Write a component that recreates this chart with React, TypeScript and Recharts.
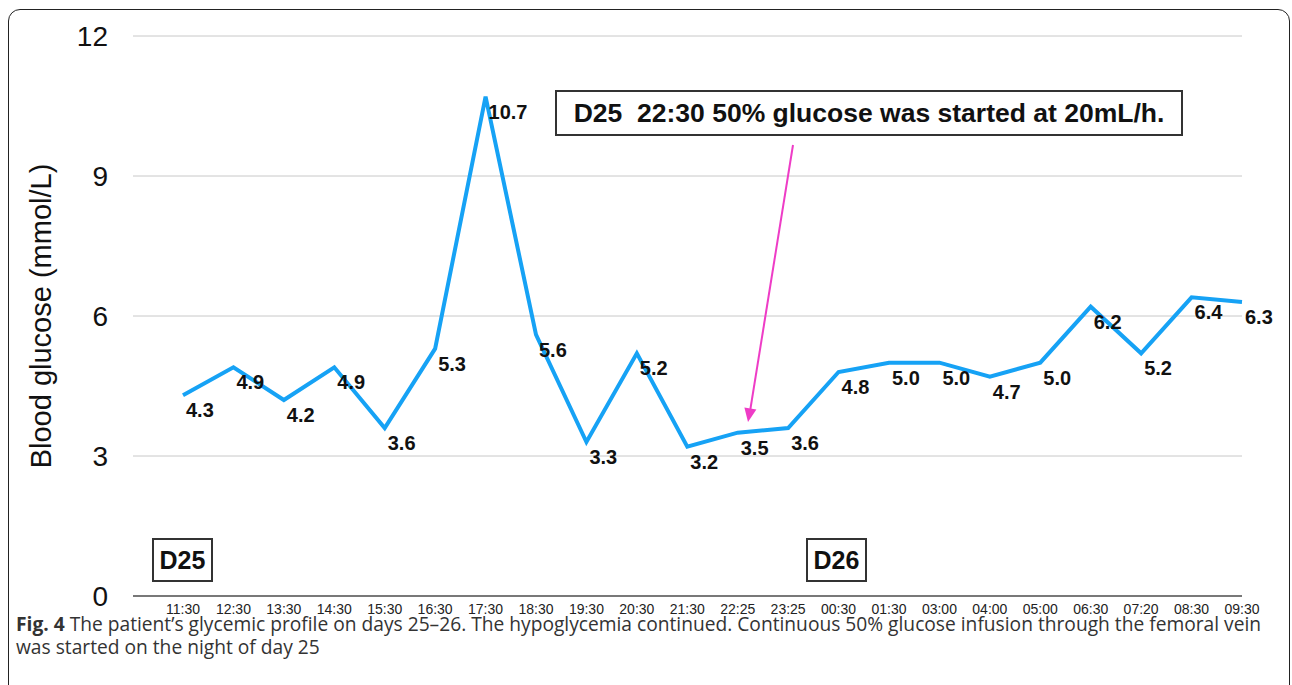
import React from "react";
import { LineChart, Line, XAxis, YAxis, CartesianGrid } from "recharts";

const times = ["11:30", "12:30", "13:30", "14:30", "15:30", "16:30", "17:30", "18:30", "19:30", "20:30", "21:30", "22:25", "23:25", "00:30", "01:30", "03:00", "04:00", "05:00", "06:30", "07:20", "08:30", "09:30"];
const glucose = [4.3, 4.9, 4.2, 4.9, 3.6, 5.3, 10.7, 5.6, 3.3, 5.2, 3.2, 3.5, 3.6, 4.8, 5.0, 5.0, 4.7, 5.0, 6.2, 5.2, 6.4, 6.3];
const yTicks = [0, 3, 6, 9, 12];
const annotationText = "D25  22:30 50% glucose was started at 20mL/h.";
const dayLabels = ["D25", "D26"];

const data = times.map((t, i) => ({ t, v: glucose[i] }));

const FONT = "'Liberation Sans', Arial, Helvetica, sans-serif";

const renderLabel = (props: any) => {
  const { x, y, value, index } = props;
  return (
    <text key={`lbl-${index}`} x={x + 3} y={y + 22} fontSize={20} fontWeight="bold" fill="#111" fontFamily={FONT}>
      {Number(value).toFixed(1)}
    </text>
  );
};

const renderYLabel = (props: any) => {
  const vb = props.viewBox || {};
  const cy = (vb.y || 0) + (vb.height || 0) / 2;
  const cx = 41;
  return (
    <text x={cx} y={cy} transform={`rotate(-90, ${cx}, ${cy})`} textAnchor="middle" dominantBaseline="central" fontSize={29} fill="#111" fontFamily={FONT}>
      Blood glucose (mmol/L)
    </text>
  );
};

const boxStyle: React.CSSProperties = {
  position: "absolute",
  border: "2px solid #333",
  background: "#fff",
  fontFamily: FONT,
  fontWeight: "bold",
  color: "#111",
  boxSizing: "border-box",
  display: "flex",
  alignItems: "center",
  justifyContent: "center",
  whiteSpace: "pre",
};

export default function App() {
  return (
    <div style={{ position: "absolute", left: 0, top: 0, width: 1292, height: 685, overflow: "hidden", background: "#fff" }}>
      <div style={{ position: "absolute", left: 8, top: 9, width: 1282, height: 800, border: "1.5px solid #222", borderRadius: 12, boxSizing: "border-box" }} />
      <div style={{ position: "absolute", left: 0, top: 0 }}>
        <LineChart width={1292} height={640} data={data} margin={{ top: 36, right: 50, bottom: 14, left: 0 }}>
          <CartesianGrid vertical={false} stroke="#c8c8c8" strokeWidth={1} />
          <XAxis
            dataKey="t"
            type="category"
            scale="point"
            padding={{ left: 50, right: 0 }}
            interval={0}
            height={30}
            tickLine={false}
            tickSize={0}
            tickMargin={8}
            axisLine={{ stroke: "#555", strokeWidth: 1.5 }}
            tick={{ fontSize: 14, fill: "#222", fontFamily: FONT }}
          />
          <YAxis
            domain={[0, 12]}
            ticks={yTicks}
            width={133}
            axisLine={false}
            tickLine={false}
            tickSize={0}
            tickMargin={25}
            tick={{ fontSize: 28, fill: "#111", fontFamily: FONT }}
            label={renderYLabel}
          />
          <Line
            type="linear"
            dataKey="v"
            stroke="#16a2f5"
            strokeWidth={4}
            dot={false}
            isAnimationActive={false}
            label={renderLabel}
          />
        </LineChart>
      </div>
      <div style={{ ...boxStyle, left: 555, top: 90, width: 628, height: 46, fontSize: 26.5 }}>{annotationText}</div>
      <div style={{ ...boxStyle, left: 152, top: 538, width: 61, height: 44, fontSize: 25 }}>{dayLabels[0]}</div>
      <div style={{ ...boxStyle, left: 806, top: 538, width: 61, height: 44, fontSize: 25 }}>{dayLabels[1]}</div>
      <svg width={1292} height={685} style={{ position: "absolute", left: 0, top: 0, pointerEvents: "none" }}>
        <line x1={793} y1={145} x2={750.4} y2={409} stroke="#ee3cc6" strokeWidth={2} />
        <polygon points="748,422 756.4,409.5 744.4,407.5" fill="#ee3cc6" />
      </svg>
      <div style={{ position: "absolute", left: 16, top: 612, width: 1255, fontFamily: "'Open Sans', sans-serif", fontSize: 19.2, lineHeight: "23px", color: "#333", letterSpacing: 0 }}>
        <b>Fig. 4</b> The patient’s glycemic profile on days 25–26. The hypoglycemia continued. Continuous 50% glucose infusion through the femoral vein was started on the night of day 25
      </div>
    </div>
  );
}
